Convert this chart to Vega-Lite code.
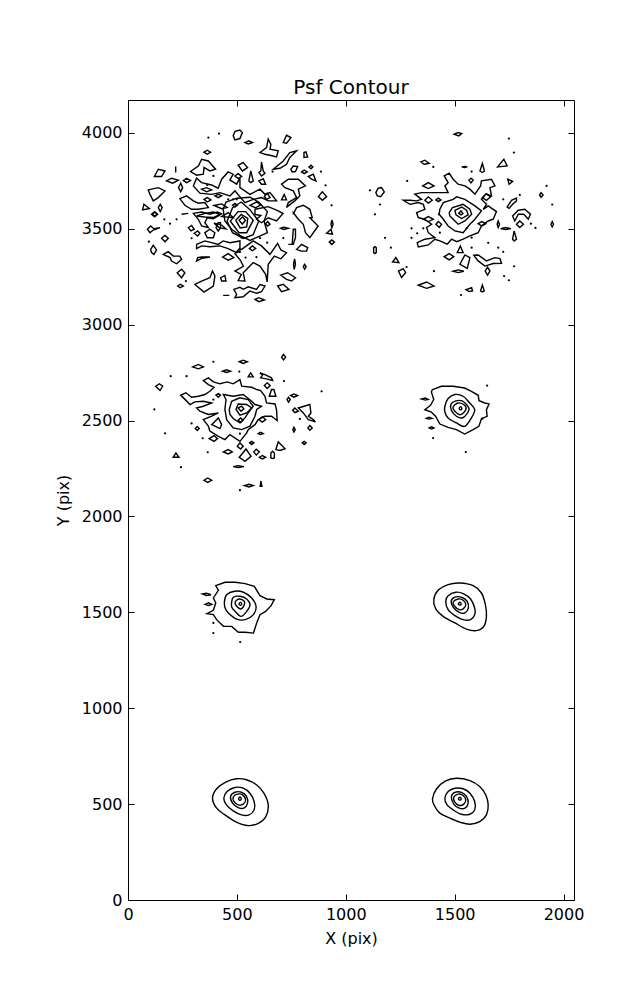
{"$schema":"https://vega.github.io/schema/vega-lite/v6.json","width":446,"height":800,"autosize":"none","padding":{"left":128,"top":100,"right":63,"bottom":100},"background":"white","config":{"view":{"stroke":"black","strokeWidth":1,"fill":null},"font":"DejaVu Sans"},"title":{"text":"Psf Contour","font":"DejaVu Sans","fontSize":20,"fontWeight":"normal","color":"black","offset":2,"anchor":"middle"},
"datasets":{"contours":[
{"c":1,"x":1398,"y":526},{"c":1,"x":1417,"y":580},{"c":1,"x":1459,"y":621},{"c":1,"x":1508,"y":635},{"c":1,"x":1570,"y":623},{"c":1,"x":1615,"y":592},{"c":1,"x":1643,"y":548},{"c":1,"x":1654,"y":496},{"c":1,"x":1646,"y":444},{"c":1,"x":1615,"y":409},{"c":1,"x":1570,"y":395},{"c":1,"x":1524,"y":406},{"c":1,"x":1478,"y":427},{"c":1,"x":1432,"y":453},{"c":1,"x":1409,"y":488},
{"c":2,"x":1455,"y":531},{"c":2,"x":1470,"y":566},{"c":2,"x":1501,"y":583},{"c":2,"x":1539,"y":580},{"c":2,"x":1570,"y":557},{"c":2,"x":1592,"y":514},{"c":2,"x":1592,"y":470},{"c":2,"x":1570,"y":447},{"c":2,"x":1531,"y":447},{"c":2,"x":1493,"y":470},{"c":2,"x":1465,"y":496},
{"c":3,"x":1485,"y":540},{"c":3,"x":1501,"y":561},{"c":3,"x":1531,"y":561},{"c":3,"x":1554,"y":540},{"c":3,"x":1562,"y":505},{"c":3,"x":1547,"y":479},{"c":3,"x":1521,"y":479},{"c":3,"x":1496,"y":500},
{"c":4,"x":1496,"y":536},{"c":4,"x":1516,"y":552},{"c":4,"x":1539,"y":545},{"c":4,"x":1551,"y":522},{"c":4,"x":1542,"y":500},{"c":4,"x":1521,"y":493},{"c":4,"x":1501,"y":510},
{"c":5,"x":1517,"y":527},{"c":5,"x":1524,"y":536},{"c":5,"x":1530,"y":527},{"c":5,"x":1524,"y":521},
{"c":6,"x":388,"y":531},{"c":6,"x":407,"y":580},{"c":6,"x":449,"y":615},{"c":6,"x":498,"y":632},{"c":6,"x":544,"y":627},{"c":6,"x":590,"y":601},{"c":6,"x":624,"y":557},{"c":6,"x":644,"y":496},{"c":6,"x":633,"y":435},{"c":6,"x":598,"y":400},{"c":6,"x":552,"y":388},{"c":6,"x":498,"y":406},{"c":6,"x":445,"y":444},{"c":6,"x":407,"y":479},
{"c":7,"x":440,"y":531},{"c":7,"x":455,"y":566},{"c":7,"x":491,"y":587},{"c":7,"x":529,"y":583},{"c":7,"x":560,"y":557},{"c":7,"x":579,"y":514},{"c":7,"x":579,"y":470},{"c":7,"x":556,"y":444},{"c":7,"x":521,"y":444},{"c":7,"x":483,"y":465},{"c":7,"x":452,"y":496},
{"c":8,"x":471,"y":540},{"c":8,"x":491,"y":562},{"c":8,"x":521,"y":562},{"c":8,"x":544,"y":540},{"c":8,"x":549,"y":505},{"c":8,"x":532,"y":479},{"c":8,"x":506,"y":482},{"c":8,"x":480,"y":505},
{"c":9,"x":483,"y":536},{"c":9,"x":501,"y":552},{"c":9,"x":526,"y":548},{"c":9,"x":540,"y":522},{"c":9,"x":529,"y":500},{"c":9,"x":506,"y":496},{"c":9,"x":486,"y":514},
{"c":10,"x":508,"y":527},{"c":10,"x":514,"y":538},{"c":10,"x":520,"y":527},{"c":10,"x":514,"y":520},
{"c":11,"x":1404,"y":1566},{"c":11,"x":1424,"y":1615},{"c":11,"x":1470,"y":1645},{"c":11,"x":1524,"y":1653},{"c":11,"x":1585,"y":1639},{"c":11,"x":1623,"y":1601},{"c":11,"x":1641,"y":1540},{"c":11,"x":1646,"y":1479},{"c":11,"x":1634,"y":1427},{"c":11,"x":1600,"y":1405},{"c":11,"x":1554,"y":1413},{"c":11,"x":1501,"y":1445},{"c":11,"x":1447,"y":1479},{"c":11,"x":1413,"y":1518},
{"c":12,"x":1459,"y":1558},{"c":12,"x":1470,"y":1587},{"c":12,"x":1505,"y":1605},{"c":12,"x":1539,"y":1598},{"c":12,"x":1573,"y":1570},{"c":12,"x":1592,"y":1523},{"c":12,"x":1592,"y":1488},{"c":12,"x":1573,"y":1462},{"c":12,"x":1539,"y":1462},{"c":12,"x":1501,"y":1483},{"c":12,"x":1470,"y":1514},
{"c":13,"x":1484,"y":1558},{"c":13,"x":1501,"y":1579},{"c":13,"x":1531,"y":1579},{"c":13,"x":1557,"y":1558},{"c":13,"x":1563,"y":1523},{"c":13,"x":1547,"y":1497},{"c":13,"x":1521,"y":1500},{"c":13,"x":1493,"y":1528},
{"c":14,"x":1493,"y":1554},{"c":14,"x":1516,"y":1570},{"c":14,"x":1539,"y":1563},{"c":14,"x":1551,"y":1540},{"c":14,"x":1539,"y":1518},{"c":14,"x":1521,"y":1514},{"c":14,"x":1498,"y":1535},
{"c":15,"x":1517,"y":1544},{"c":15,"x":1524,"y":1553},{"c":15,"x":1530,"y":1544},{"c":15,"x":1524,"y":1538},
{"c":16,"x":403,"y":1639},{"c":16,"x":446,"y":1657},{"c":16,"x":492,"y":1657},{"c":16,"x":538,"y":1650},{"c":16,"x":580,"y":1636},{"c":16,"x":606,"y":1587},{"c":16,"x":637,"y":1570},{"c":16,"x":672,"y":1566},{"c":16,"x":657,"y":1535},{"c":16,"x":632,"y":1505},{"c":16,"x":606,"y":1488},{"c":16,"x":591,"y":1445},{"c":16,"x":576,"y":1392},{"c":16,"x":538,"y":1396},{"c":16,"x":507,"y":1396},{"c":16,"x":476,"y":1427},{"c":16,"x":438,"y":1427},{"c":16,"x":407,"y":1462},{"c":16,"x":392,"y":1488},{"c":16,"x":362,"y":1493},{"c":16,"x":392,"y":1511},{"c":16,"x":403,"y":1549},{"c":16,"x":392,"y":1575},{"c":16,"x":415,"y":1615},
{"c":17,"x":443,"y":1558},{"c":17,"x":453,"y":1592},{"c":17,"x":489,"y":1610},{"c":17,"x":530,"y":1605},{"c":17,"x":568,"y":1575},{"c":17,"x":588,"y":1532},{"c":17,"x":576,"y":1488},{"c":17,"x":538,"y":1462},{"c":17,"x":499,"y":1465},{"c":17,"x":461,"y":1497},{"c":17,"x":446,"y":1523},
{"c":18,"x":476,"y":1554},{"c":18,"x":484,"y":1579},{"c":18,"x":515,"y":1584},{"c":18,"x":545,"y":1570},{"c":18,"x":560,"y":1540},{"c":18,"x":545,"y":1505},{"c":18,"x":519,"y":1479},{"c":18,"x":492,"y":1505},{"c":18,"x":476,"y":1528},
{"c":19,"x":492,"y":1554},{"c":19,"x":511,"y":1570},{"c":19,"x":534,"y":1558},{"c":19,"x":534,"y":1540},{"c":19,"x":519,"y":1518},{"c":19,"x":499,"y":1532},
{"c":20,"x":510,"y":1544},{"c":20,"x":516,"y":1552},{"c":20,"x":522,"y":1544},{"c":20,"x":516,"y":1537},
{"c":21,"x":342,"y":1596},{"c":21,"x":360,"y":1600},{"c":21,"x":381,"y":1592},{"c":21,"x":360,"y":1588},
{"c":22,"x":354,"y":1542},{"c":22,"x":370,"y":1550},{"c":22,"x":385,"y":1542},{"c":22,"x":370,"y":1536},
{"c":23,"x":1398,"y":2662},{"c":23,"x":1439,"y":2679},{"c":23,"x":1493,"y":2679},{"c":23,"x":1546,"y":2670},{"c":23,"x":1577,"y":2653},{"c":23,"x":1608,"y":2632},{"c":23,"x":1612,"y":2604},{"c":23,"x":1638,"y":2592},{"c":23,"x":1658,"y":2587},{"c":23,"x":1646,"y":2557},{"c":23,"x":1649,"y":2522},{"c":23,"x":1623,"y":2510},{"c":23,"x":1611,"y":2470},{"c":23,"x":1585,"y":2453},{"c":23,"x":1546,"y":2430},{"c":23,"x":1508,"y":2453},{"c":23,"x":1470,"y":2465},{"c":23,"x":1432,"y":2482},{"c":23,"x":1413,"y":2522},{"c":23,"x":1393,"y":2545},{"c":23,"x":1363,"y":2557},{"c":23,"x":1389,"y":2580},{"c":23,"x":1404,"y":2610},{"c":23,"x":1393,"y":2650},
{"c":24,"x":1455,"y":2575},{"c":24,"x":1470,"y":2615},{"c":24,"x":1501,"y":2636},{"c":24,"x":1539,"y":2627},{"c":24,"x":1569,"y":2592},{"c":24,"x":1592,"y":2557},{"c":24,"x":1577,"y":2514},{"c":24,"x":1546,"y":2470},{"c":24,"x":1508,"y":2488},{"c":24,"x":1470,"y":2514},{"c":24,"x":1455,"y":2545},
{"c":25,"x":1481,"y":2571},{"c":25,"x":1493,"y":2597},{"c":25,"x":1531,"y":2604},{"c":25,"x":1557,"y":2580},{"c":25,"x":1566,"y":2557},{"c":25,"x":1546,"y":2522},{"c":25,"x":1524,"y":2514},{"c":25,"x":1496,"y":2535},
{"c":26,"x":1493,"y":2571},{"c":26,"x":1516,"y":2592},{"c":26,"x":1546,"y":2580},{"c":26,"x":1551,"y":2557},{"c":26,"x":1527,"y":2531},{"c":26,"x":1501,"y":2549},
{"c":27,"x":1521,"y":2563},{"c":27,"x":1527,"y":2572},{"c":27,"x":1533,"y":2563},{"c":27,"x":1527,"y":2556},
{"c":28,"x":1348,"y":2613},{"c":28,"x":1365,"y":2618},{"c":28,"x":1378,"y":2610},{"c":28,"x":1365,"y":2607},
{"c":29,"x":1370,"y":2512},{"c":29,"x":1382,"y":2518},{"c":29,"x":1396,"y":2512},{"c":29,"x":1382,"y":2508},
{"c":30,"x":1383,"y":2462},{"c":30,"x":1394,"y":2468},{"c":30,"x":1405,"y":2462},{"c":30,"x":1394,"y":2456},
{"c":31,"x":242,"y":2633},{"c":31,"x":266,"y":2645},{"c":31,"x":292,"y":2622},{"c":31,"x":323,"y":2627},{"c":31,"x":353,"y":2636},{"c":31,"x":376,"y":2653},{"c":31,"x":395,"y":2674},{"c":31,"x":369,"y":2688},{"c":31,"x":346,"y":2709},{"c":31,"x":369,"y":2723},{"c":31,"x":392,"y":2702},{"c":31,"x":422,"y":2692},{"c":31,"x":456,"y":2702},{"c":31,"x":483,"y":2692},{"c":31,"x":514,"y":2714},{"c":31,"x":522,"y":2680},{"c":31,"x":568,"y":2674},{"c":31,"x":591,"y":2662},{"c":31,"x":609,"y":2657},{"c":31,"x":629,"y":2627},{"c":31,"x":636,"y":2592},{"c":31,"x":675,"y":2587},{"c":31,"x":682,"y":2558},{"c":31,"x":685,"y":2500},{"c":31,"x":659,"y":2523},{"c":31,"x":629,"y":2523},{"c":31,"x":598,"y":2505},{"c":31,"x":583,"y":2479},{"c":31,"x":552,"y":2453},{"c":31,"x":545,"y":2436},{"c":31,"x":514,"y":2392},{"c":31,"x":468,"y":2427},{"c":31,"x":445,"y":2401},{"c":31,"x":415,"y":2418},{"c":31,"x":376,"y":2445},{"c":31,"x":369,"y":2471},{"c":31,"x":346,"y":2505},{"c":31,"x":384,"y":2523},{"c":31,"x":415,"y":2540},{"c":31,"x":369,"y":2532},{"c":31,"x":330,"y":2549},{"c":31,"x":315,"y":2566},{"c":31,"x":346,"y":2575},{"c":31,"x":384,"y":2592},{"c":31,"x":346,"y":2601},{"c":31,"x":307,"y":2598},{"c":31,"x":285,"y":2584},
{"c":32,"x":438,"y":2636},{"c":32,"x":483,"y":2627},{"c":32,"x":529,"y":2636},{"c":32,"x":568,"y":2601},{"c":32,"x":583,"y":2584},{"c":32,"x":613,"y":2575},{"c":32,"x":591,"y":2558},{"c":32,"x":583,"y":2523},{"c":32,"x":560,"y":2471},{"c":32,"x":522,"y":2453},{"c":32,"x":483,"y":2462},{"c":32,"x":453,"y":2505},{"c":32,"x":445,"y":2558},{"c":32,"x":450,"y":2610},
{"c":33,"x":465,"y":2558},{"c":33,"x":476,"y":2601},{"c":33,"x":514,"y":2619},{"c":33,"x":552,"y":2610},{"c":33,"x":575,"y":2575},{"c":33,"x":552,"y":2540},{"c":33,"x":537,"y":2514},{"c":33,"x":514,"y":2488},{"c":33,"x":483,"y":2511},{"c":33,"x":468,"y":2532},
{"c":34,"x":496,"y":2558},{"c":34,"x":506,"y":2587},{"c":34,"x":545,"y":2584},{"c":34,"x":568,"y":2566},{"c":34,"x":545,"y":2540},{"c":34,"x":514,"y":2528},
{"c":35,"x":506,"y":2566},{"c":35,"x":522,"y":2575},{"c":35,"x":532,"y":2561},{"c":35,"x":519,"y":2549},
{"c":36,"x":127,"y":2679},{"c":36,"x":144,"y":2692},{"c":36,"x":159,"y":2679},{"c":36,"x":147,"y":2657},
{"c":37,"x":297,"y":2780},{"c":37,"x":323,"y":2793},{"c":37,"x":346,"y":2780},{"c":37,"x":323,"y":2770},
{"c":38,"x":511,"y":2807},{"c":38,"x":529,"y":2815},{"c":38,"x":548,"y":2807},{"c":38,"x":529,"y":2798},
{"c":39,"x":434,"y":2758},{"c":39,"x":453,"y":2765},{"c":39,"x":471,"y":2758},{"c":39,"x":453,"y":2751},
{"c":40,"x":705,"y":2831},{"c":40,"x":714,"y":2845},{"c":40,"x":724,"y":2831},{"c":40,"x":714,"y":2817},
{"c":41,"x":552,"y":2728},{"c":41,"x":563,"y":2749},{"c":41,"x":575,"y":2728},
{"c":42,"x":606,"y":2749},{"c":42,"x":629,"y":2740},{"c":42,"x":659,"y":2723},{"c":42,"x":664,"y":2709},{"c":42,"x":636,"y":2718},{"c":42,"x":609,"y":2723},{"c":42,"x":618,"y":2737},
{"c":43,"x":626,"y":2683},{"c":43,"x":639,"y":2697},{"c":43,"x":653,"y":2683},{"c":43,"x":639,"y":2667},
{"c":44,"x":649,"y":2627},{"c":44,"x":659,"y":2662},{"c":44,"x":670,"y":2662},{"c":44,"x":679,"y":2627},
{"c":45,"x":747,"y":2631},{"c":45,"x":762,"y":2639},{"c":45,"x":779,"y":2631},{"c":45,"x":762,"y":2622},
{"c":46,"x":730,"y":2610},{"c":46,"x":737,"y":2622},{"c":46,"x":745,"y":2610},{"c":46,"x":737,"y":2596},
{"c":47,"x":404,"y":2633},{"c":47,"x":415,"y":2641},{"c":47,"x":425,"y":2633},{"c":47,"x":415,"y":2622},
{"c":48,"x":782,"y":2566},{"c":48,"x":835,"y":2584},{"c":48,"x":840,"y":2540},{"c":48,"x":828,"y":2523},{"c":48,"x":851,"y":2505},{"c":48,"x":861,"y":2493},{"c":48,"x":828,"y":2505},{"c":48,"x":805,"y":2540},
{"c":49,"x":756,"y":2554},{"c":49,"x":766,"y":2566},{"c":49,"x":782,"y":2549},{"c":49,"x":766,"y":2542},
{"c":50,"x":826,"y":2462},{"c":50,"x":835,"y":2474},{"c":50,"x":846,"y":2462},{"c":50,"x":835,"y":2450},
{"c":51,"x":757,"y":2453},{"c":51,"x":762,"y":2465},{"c":51,"x":768,"y":2453},{"c":51,"x":762,"y":2441},
{"c":52,"x":309,"y":2459},{"c":52,"x":318,"y":2469},{"c":52,"x":327,"y":2459},{"c":52,"x":318,"y":2448},
{"c":53,"x":373,"y":2406},{"c":53,"x":395,"y":2422},{"c":53,"x":411,"y":2406},{"c":53,"x":395,"y":2392},
{"c":54,"x":384,"y":2479},{"c":54,"x":415,"y":2514},{"c":54,"x":430,"y":2479},{"c":54,"x":422,"y":2458},{"c":54,"x":399,"y":2471},
{"c":55,"x":598,"y":2432},{"c":55,"x":609,"y":2439},{"c":55,"x":621,"y":2432},{"c":55,"x":609,"y":2427},
{"c":56,"x":502,"y":2366},{"c":56,"x":514,"y":2384},{"c":56,"x":529,"y":2366},{"c":56,"x":517,"y":2352},
{"c":57,"x":558,"y":2384},{"c":57,"x":568,"y":2392},{"c":57,"x":578,"y":2384},{"c":57,"x":568,"y":2375},
{"c":58,"x":601,"y":2505},{"c":58,"x":617,"y":2521},{"c":58,"x":632,"y":2505},{"c":58,"x":617,"y":2492},
{"c":59,"x":506,"y":2502},{"c":59,"x":517,"y":2514},{"c":59,"x":528,"y":2502},{"c":59,"x":517,"y":2490},
{"c":60,"x":800,"y":2384},{"c":60,"x":809,"y":2392},{"c":60,"x":818,"y":2384},{"c":60,"x":809,"y":2375},
{"c":61,"x":679,"y":2349},{"c":61,"x":690,"y":2389},{"c":61,"x":721,"y":2354},{"c":61,"x":698,"y":2344},
{"c":62,"x":656,"y":2305},{"c":62,"x":656,"y":2331},{"c":62,"x":664,"y":2340},{"c":62,"x":672,"y":2331},{"c":62,"x":672,"y":2305},{"c":62,"x":664,"y":2302},
{"c":63,"x":603,"y":2309},{"c":63,"x":617,"y":2318},{"c":63,"x":632,"y":2309},{"c":63,"x":617,"y":2300},
{"c":64,"x":577,"y":2337},{"c":64,"x":589,"y":2351},{"c":64,"x":603,"y":2337},{"c":64,"x":589,"y":2321},
{"c":65,"x":511,"y":2309},{"c":65,"x":542,"y":2352},{"c":65,"x":565,"y":2314},{"c":65,"x":537,"y":2288},
{"c":66,"x":438,"y":2337},{"c":66,"x":460,"y":2349},{"c":66,"x":479,"y":2337},{"c":66,"x":460,"y":2326},
{"c":67,"x":208,"y":2309},{"c":67,"x":220,"y":2331},{"c":67,"x":234,"y":2309},
{"c":68,"x":483,"y":2260},{"c":68,"x":506,"y":2265},{"c":68,"x":532,"y":2260},{"c":68,"x":506,"y":2255},
{"c":69,"x":349,"y":2189},{"c":69,"x":366,"y":2201},{"c":69,"x":384,"y":2189},{"c":69,"x":366,"y":2178},
{"c":70,"x":534,"y":2161},{"c":70,"x":555,"y":2168},{"c":70,"x":575,"y":2161},{"c":70,"x":555,"y":2154},
{"c":71,"x":607,"y":2157},{"c":71,"x":610,"y":2184},{"c":71,"x":615,"y":2157},
{"c":72,"x":1452,"y":3776},{"c":72,"x":1475,"y":3790},{"c":72,"x":1493,"y":3759},{"c":72,"x":1516,"y":3733},{"c":72,"x":1547,"y":3724},{"c":72,"x":1570,"y":3707},{"c":72,"x":1593,"y":3681},{"c":72,"x":1619,"y":3724},{"c":72,"x":1623,"y":3750},{"c":72,"x":1669,"y":3759},{"c":72,"x":1685,"y":3724},{"c":72,"x":1662,"y":3715},{"c":72,"x":1669,"y":3672},{"c":72,"x":1643,"y":3681},{"c":72,"x":1623,"y":3654},{"c":72,"x":1646,"y":3628},{"c":72,"x":1631,"y":3602},{"c":72,"x":1654,"y":3620},{"c":72,"x":1692,"y":3590},{"c":72,"x":1677,"y":3550},{"c":72,"x":1654,"y":3541},{"c":72,"x":1623,"y":3515},{"c":72,"x":1608,"y":3480},{"c":72,"x":1570,"y":3463},{"c":72,"x":1539,"y":3446},{"c":72,"x":1509,"y":3433},{"c":72,"x":1486,"y":3446},{"c":72,"x":1466,"y":3420},{"c":72,"x":1432,"y":3437},{"c":72,"x":1409,"y":3446},{"c":72,"x":1379,"y":3416},{"c":72,"x":1333,"y":3406},{"c":72,"x":1328,"y":3428},{"c":72,"x":1363,"y":3446},{"c":72,"x":1409,"y":3454},{"c":72,"x":1379,"y":3480},{"c":72,"x":1371,"y":3507},{"c":72,"x":1394,"y":3524},{"c":72,"x":1363,"y":3550},{"c":72,"x":1333,"y":3559},{"c":72,"x":1325,"y":3585},{"c":72,"x":1363,"y":3602},{"c":72,"x":1356,"y":3628},{"c":72,"x":1333,"y":3637},{"c":72,"x":1295,"y":3628},{"c":72,"x":1264,"y":3649},{"c":72,"x":1295,"y":3649},{"c":72,"x":1325,"y":3646},{"c":72,"x":1348,"y":3654},{"c":72,"x":1317,"y":3681},{"c":72,"x":1348,"y":3689},{"c":72,"x":1386,"y":3689},{"c":72,"x":1432,"y":3689},{"c":72,"x":1470,"y":3689},{"c":72,"x":1455,"y":3724},{"c":72,"x":1470,"y":3741},
{"c":73,"x":1432,"y":3602},{"c":73,"x":1448,"y":3637},{"c":73,"x":1493,"y":3654},{"c":73,"x":1509,"y":3667},{"c":73,"x":1547,"y":3654},{"c":73,"x":1593,"y":3620},{"c":73,"x":1623,"y":3594},{"c":73,"x":1593,"y":3550},{"c":73,"x":1570,"y":3524},{"c":73,"x":1539,"y":3480},{"c":73,"x":1501,"y":3489},{"c":73,"x":1470,"y":3515},{"c":73,"x":1448,"y":3550},{"c":73,"x":1429,"y":3576},
{"c":74,"x":1475,"y":3585},{"c":74,"x":1490,"y":3611},{"c":74,"x":1539,"y":3628},{"c":74,"x":1570,"y":3602},{"c":74,"x":1578,"y":3576},{"c":74,"x":1547,"y":3541},{"c":74,"x":1516,"y":3524},{"c":74,"x":1493,"y":3550},{"c":74,"x":1478,"y":3567},
{"c":75,"x":1501,"y":3597},{"c":75,"x":1532,"y":3614},{"c":75,"x":1555,"y":3597},{"c":75,"x":1562,"y":3573},{"c":75,"x":1532,"y":3554},{"c":75,"x":1506,"y":3573},
{"c":76,"x":1519,"y":3581},{"c":76,"x":1529,"y":3594},{"c":76,"x":1538,"y":3580},{"c":76,"x":1529,"y":3573},
{"c":77,"x":1498,"y":3994},{"c":77,"x":1516,"y":4002},{"c":77,"x":1532,"y":3997},{"c":77,"x":1519,"y":3985},
{"c":78,"x":1345,"y":3849},{"c":78,"x":1363,"y":3858},{"c":78,"x":1383,"y":3842},{"c":78,"x":1360,"y":3837},
{"c":79,"x":1616,"y":3802},{"c":79,"x":1627,"y":3841},{"c":79,"x":1637,"y":3802},{"c":79,"x":1627,"y":3794},
{"c":80,"x":1697,"y":3823},{"c":80,"x":1726,"y":3863},{"c":80,"x":1741,"y":3828},
{"c":81,"x":1532,"y":3823},{"c":81,"x":1546,"y":3825},{"c":81,"x":1558,"y":3823},{"c":81,"x":1546,"y":3820},
{"c":82,"x":1565,"y":3754},{"c":82,"x":1575,"y":3764},{"c":82,"x":1585,"y":3754},{"c":82,"x":1575,"y":3740},
{"c":83,"x":1744,"y":3759},{"c":83,"x":1766,"y":3747},{"c":83,"x":1750,"y":3733},
{"c":84,"x":1353,"y":3724},{"c":84,"x":1379,"y":3741},{"c":84,"x":1405,"y":3724},{"c":84,"x":1379,"y":3710},
{"c":85,"x":1138,"y":3689},{"c":85,"x":1149,"y":3712},{"c":85,"x":1164,"y":3715},{"c":85,"x":1177,"y":3693},{"c":85,"x":1160,"y":3668},{"c":85,"x":1145,"y":3672},
{"c":86,"x":1890,"y":3677},{"c":86,"x":1897,"y":3689},{"c":86,"x":1906,"y":3677},{"c":86,"x":1897,"y":3665},
{"c":87,"x":1363,"y":3649},{"c":87,"x":1379,"y":3667},{"c":87,"x":1397,"y":3649},{"c":87,"x":1379,"y":3634},
{"c":88,"x":1414,"y":3651},{"c":88,"x":1425,"y":3660},{"c":88,"x":1437,"y":3651},{"c":88,"x":1425,"y":3642},
{"c":89,"x":1628,"y":3663},{"c":89,"x":1646,"y":3684},{"c":89,"x":1665,"y":3667},{"c":89,"x":1646,"y":3649},
{"c":90,"x":1741,"y":3614},{"c":90,"x":1761,"y":3649},{"c":90,"x":1784,"y":3660},{"c":90,"x":1784,"y":3646},{"c":90,"x":1766,"y":3628},{"c":90,"x":1750,"y":3607},
{"c":91,"x":1766,"y":3567},{"c":91,"x":1792,"y":3597},{"c":91,"x":1822,"y":3602},{"c":91,"x":1848,"y":3576},{"c":91,"x":1838,"y":3550},{"c":91,"x":1818,"y":3576},{"c":91,"x":1792,"y":3576},{"c":91,"x":1776,"y":3541},
{"c":92,"x":1784,"y":3524},{"c":92,"x":1799,"y":3541},{"c":92,"x":1816,"y":3524},{"c":92,"x":1799,"y":3507},
{"c":93,"x":1695,"y":3524},{"c":93,"x":1700,"y":3541},{"c":93,"x":1706,"y":3524},{"c":93,"x":1700,"y":3507},
{"c":94,"x":1711,"y":3501},{"c":94,"x":1734,"y":3507},{"c":94,"x":1758,"y":3501},{"c":94,"x":1734,"y":3496},
{"c":95,"x":1766,"y":3446},{"c":95,"x":1773,"y":3489},{"c":95,"x":1784,"y":3446},{"c":95,"x":1773,"y":3437},
{"c":96,"x":1942,"y":3524},{"c":96,"x":1948,"y":3538},{"c":96,"x":1954,"y":3524},{"c":96,"x":1948,"y":3510},
{"c":97,"x":1356,"y":3550},{"c":97,"x":1379,"y":3564},{"c":97,"x":1402,"y":3550},{"c":97,"x":1379,"y":3538},
{"c":98,"x":1414,"y":3524},{"c":98,"x":1425,"y":3538},{"c":98,"x":1440,"y":3524},{"c":98,"x":1429,"y":3507},
{"c":99,"x":1608,"y":3527},{"c":99,"x":1625,"y":3538},{"c":99,"x":1643,"y":3527},{"c":99,"x":1625,"y":3515},
{"c":100,"x":1128,"y":3376},{"c":100,"x":1128,"y":3402},{"c":100,"x":1134,"y":3407},{"c":100,"x":1140,"y":3402},{"c":100,"x":1140,"y":3376},{"c":100,"x":1134,"y":3371},
{"c":101,"x":1215,"y":3327},{"c":101,"x":1230,"y":3350},{"c":101,"x":1244,"y":3324},
{"c":102,"x":1242,"y":3280},{"c":102,"x":1264,"y":3293},{"c":102,"x":1275,"y":3272},{"c":102,"x":1256,"y":3246},
{"c":103,"x":1452,"y":3355},{"c":103,"x":1475,"y":3371},{"c":103,"x":1496,"y":3355},{"c":103,"x":1475,"y":3338},
{"c":104,"x":1512,"y":3376},{"c":104,"x":1526,"y":3411},{"c":104,"x":1539,"y":3376},
{"c":105,"x":1524,"y":3315},{"c":105,"x":1547,"y":3364},{"c":105,"x":1570,"y":3350},{"c":105,"x":1558,"y":3294},
{"c":106,"x":1588,"y":3362},{"c":106,"x":1608,"y":3364},{"c":106,"x":1646,"y":3333},{"c":106,"x":1685,"y":3350},{"c":106,"x":1708,"y":3345},{"c":106,"x":1715,"y":3320},{"c":106,"x":1677,"y":3319},{"c":106,"x":1639,"y":3306},{"c":106,"x":1608,"y":3333},
{"c":107,"x":1640,"y":3280},{"c":107,"x":1651,"y":3301},{"c":107,"x":1662,"y":3280},{"c":107,"x":1651,"y":3259},
{"c":108,"x":1493,"y":3279},{"c":108,"x":1516,"y":3286},{"c":108,"x":1542,"y":3279},{"c":108,"x":1516,"y":3272},
{"c":109,"x":1333,"y":3206},{"c":109,"x":1371,"y":3223},{"c":109,"x":1405,"y":3202},{"c":109,"x":1371,"y":3190},
{"c":110,"x":1552,"y":3183},{"c":110,"x":1578,"y":3193},{"c":110,"x":1582,"y":3176},{"c":110,"x":1567,"y":3173},
{"c":111,"x":1619,"y":3176},{"c":111,"x":1627,"y":3207},{"c":111,"x":1636,"y":3176},{"c":111,"x":1627,"y":3171},
{"c":112,"x":483,"y":3985},{"c":112,"x":491,"y":4008},{"c":112,"x":514,"y":4015},{"c":112,"x":525,"y":4002},{"c":112,"x":514,"y":3971},{"c":112,"x":491,"y":3964},
{"c":113,"x":349,"y":3900},{"c":113,"x":364,"y":3910},{"c":113,"x":379,"y":3900},{"c":113,"x":364,"y":3889},
{"c":114,"x":219,"y":3825},{"c":114,"x":219,"y":3794},
{"c":115,"x":121,"y":3773},{"c":115,"x":139,"y":3811},{"c":115,"x":170,"y":3802},{"c":115,"x":154,"y":3773},
{"c":116,"x":177,"y":3750},{"c":116,"x":200,"y":3764},{"c":116,"x":231,"y":3754},{"c":116,"x":205,"y":3738},
{"c":117,"x":254,"y":3752},{"c":117,"x":269,"y":3764},{"c":117,"x":287,"y":3752},{"c":117,"x":269,"y":3741},
{"c":118,"x":232,"y":3715},{"c":118,"x":242,"y":3738},{"c":118,"x":251,"y":3715},{"c":118,"x":242,"y":3694},
{"c":119,"x":287,"y":3799},{"c":119,"x":323,"y":3828},{"c":119,"x":338,"y":3863},{"c":119,"x":369,"y":3854},{"c":119,"x":402,"y":3811},{"c":119,"x":376,"y":3802},{"c":119,"x":349,"y":3820},{"c":119,"x":346,"y":3785},{"c":119,"x":315,"y":3780},
{"c":120,"x":93,"y":3703},{"c":120,"x":139,"y":3715},{"c":120,"x":170,"y":3698},{"c":120,"x":139,"y":3663},{"c":120,"x":116,"y":3646},{"c":120,"x":101,"y":3680},
{"c":121,"x":67,"y":3599},{"c":121,"x":73,"y":3628},{"c":121,"x":98,"y":3606},
{"c":122,"x":139,"y":3611},{"c":122,"x":148,"y":3628},{"c":122,"x":157,"y":3611},{"c":122,"x":148,"y":3590},
{"c":123,"x":112,"y":3576},{"c":123,"x":124,"y":3588},{"c":123,"x":136,"y":3576},{"c":123,"x":124,"y":3564},
{"c":124,"x":610,"y":3802},{"c":124,"x":613,"y":3849},{"c":124,"x":621,"y":3802},{"c":124,"x":629,"y":3790},{"c":124,"x":613,"y":3776},{"c":124,"x":601,"y":3794},
{"c":125,"x":555,"y":3750},{"c":125,"x":564,"y":3802},{"c":125,"x":575,"y":3750},{"c":125,"x":564,"y":3741},
{"c":126,"x":506,"y":3832},{"c":126,"x":529,"y":3846},{"c":126,"x":549,"y":3820},{"c":126,"x":525,"y":3802},
{"c":127,"x":491,"y":3776},{"c":127,"x":506,"y":3788},{"c":127,"x":522,"y":3773},{"c":127,"x":506,"y":3762},
{"c":128,"x":606,"y":3898},{"c":128,"x":636,"y":3924},{"c":128,"x":644,"y":3968},{"c":128,"x":656,"y":3941},{"c":128,"x":652,"y":3915},{"c":128,"x":690,"y":3907},{"c":128,"x":682,"y":3875},{"c":128,"x":652,"y":3884},{"c":128,"x":629,"y":3889},
{"c":129,"x":713,"y":3950},{"c":129,"x":728,"y":3988},{"c":129,"x":748,"y":3976},{"c":129,"x":728,"y":3947},
{"c":130,"x":537,"y":3950},{"c":130,"x":555,"y":3959},{"c":130,"x":571,"y":3950},{"c":130,"x":552,"y":3943},
{"c":131,"x":667,"y":3811},{"c":131,"x":713,"y":3854},{"c":131,"x":743,"y":3898},{"c":131,"x":774,"y":3907},{"c":131,"x":743,"y":3872},{"c":131,"x":728,"y":3837},{"c":131,"x":698,"y":3816},
{"c":132,"x":808,"y":3898},{"c":132,"x":817,"y":3901},{"c":132,"x":825,"y":3875},{"c":132,"x":808,"y":3872},
{"c":133,"x":748,"y":3811},{"c":133,"x":759,"y":3828},{"c":133,"x":779,"y":3825},{"c":133,"x":769,"y":3799},{"c":133,"x":754,"y":3797},
{"c":134,"x":797,"y":3797},{"c":134,"x":809,"y":3806},{"c":134,"x":823,"y":3797},{"c":134,"x":809,"y":3788},
{"c":135,"x":831,"y":3823},{"c":135,"x":840,"y":3832},{"c":135,"x":849,"y":3823},{"c":135,"x":840,"y":3813},
{"c":136,"x":828,"y":3773},{"c":136,"x":851,"y":3785},{"c":136,"x":863,"y":3750},{"c":136,"x":843,"y":3759},
{"c":137,"x":874,"y":3668},{"c":137,"x":892,"y":3693},{"c":137,"x":912,"y":3668},{"c":137,"x":893,"y":3649},
{"c":138,"x":705,"y":3733},{"c":138,"x":736,"y":3759},{"c":138,"x":782,"y":3759},{"c":138,"x":815,"y":3724},{"c":138,"x":782,"y":3707},{"c":138,"x":789,"y":3672},{"c":138,"x":766,"y":3646},{"c":138,"x":736,"y":3620},{"c":138,"x":728,"y":3611},{"c":138,"x":736,"y":3637},{"c":138,"x":774,"y":3663},{"c":138,"x":759,"y":3698},{"c":138,"x":721,"y":3715},
{"c":139,"x":705,"y":3651},{"c":139,"x":717,"y":3680},{"c":139,"x":728,"y":3651},
{"c":140,"x":759,"y":3576},{"c":140,"x":774,"y":3611},{"c":140,"x":805,"y":3623},{"c":140,"x":835,"y":3602},{"c":140,"x":846,"y":3559},{"c":140,"x":835,"y":3558},{"c":140,"x":873,"y":3515},{"c":140,"x":835,"y":3454},{"c":140,"x":815,"y":3480},{"c":140,"x":805,"y":3524},{"c":140,"x":782,"y":3550},{"c":140,"x":759,"y":3585},
{"c":141,"x":932,"y":3524},{"c":141,"x":936,"y":3546},{"c":141,"x":942,"y":3524},{"c":141,"x":936,"y":3506},
{"c":142,"x":912,"y":3477},{"c":142,"x":932,"y":3498},{"c":142,"x":939,"y":3472},
{"c":143,"x":924,"y":3431},{"c":143,"x":936,"y":3442},{"c":143,"x":948,"y":3431},{"c":143,"x":936,"y":3418},
{"c":144,"x":754,"y":3419},{"c":144,"x":759,"y":3498},{"c":144,"x":769,"y":3498},{"c":144,"x":769,"y":3454},{"c":144,"x":759,"y":3419},{"c":144,"x":736,"y":3419},
{"c":145,"x":701,"y":3503},{"c":145,"x":716,"y":3508},{"c":145,"x":736,"y":3503},{"c":145,"x":716,"y":3496},
{"c":146,"x":774,"y":3393},{"c":146,"x":797,"y":3419},{"c":146,"x":825,"y":3402},{"c":146,"x":820,"y":3384},{"c":146,"x":797,"y":3384},
{"c":147,"x":763,"y":3289},{"c":147,"x":760,"y":3315},{"c":147,"x":765,"y":3344},{"c":147,"x":769,"y":3315},
{"c":148,"x":805,"y":3303},{"c":148,"x":811,"y":3315},{"c":148,"x":818,"y":3303},{"c":148,"x":811,"y":3289},
{"c":149,"x":701,"y":3259},{"c":149,"x":733,"y":3271},{"c":149,"x":769,"y":3245},{"c":149,"x":751,"y":3228},{"c":149,"x":728,"y":3237},
{"c":150,"x":687,"y":3202},{"c":150,"x":713,"y":3211},{"c":150,"x":739,"y":3184},{"c":150,"x":705,"y":3172},
{"c":151,"x":583,"y":3132},{"c":151,"x":601,"y":3141},{"c":151,"x":626,"y":3129},{"c":151,"x":601,"y":3120},
{"c":152,"x":486,"y":3184},{"c":152,"x":514,"y":3195},{"c":152,"x":530,"y":3185},{"c":152,"x":552,"y":3198},{"c":152,"x":590,"y":3184},{"c":152,"x":606,"y":3210},{"c":152,"x":629,"y":3202},{"c":152,"x":613,"y":3172},{"c":152,"x":590,"y":3164},{"c":152,"x":560,"y":3176},{"c":152,"x":529,"y":3146},{"c":152,"x":491,"y":3141},{"c":152,"x":499,"y":3158},
{"c":153,"x":557,"y":3398},{"c":153,"x":571,"y":3411},{"c":153,"x":586,"y":3398},{"c":153,"x":571,"y":3386},
{"c":154,"x":522,"y":3393},{"c":154,"x":575,"y":3437},{"c":154,"x":613,"y":3411},{"c":154,"x":652,"y":3367},{"c":154,"x":687,"y":3424},{"c":154,"x":702,"y":3390},{"c":154,"x":728,"y":3376},{"c":154,"x":702,"y":3344},{"c":154,"x":672,"y":3358},{"c":154,"x":644,"y":3315},{"c":154,"x":639,"y":3223},{"c":154,"x":632,"y":3263},{"c":154,"x":606,"y":3306},{"c":154,"x":575,"y":3324},{"c":154,"x":545,"y":3289},{"c":154,"x":529,"y":3271},{"c":154,"x":537,"y":3228},{"c":154,"x":506,"y":3230},{"c":154,"x":520,"y":3262},{"c":154,"x":491,"y":3280},{"c":154,"x":530,"y":3305},{"c":154,"x":514,"y":3340},{"c":154,"x":491,"y":3370},{"c":154,"x":510,"y":3395},
{"c":155,"x":89,"y":3498},{"c":155,"x":104,"y":3515},{"c":155,"x":119,"y":3501},{"c":155,"x":147,"y":3506},{"c":155,"x":116,"y":3494},{"c":155,"x":101,"y":3480},
{"c":156,"x":154,"y":3451},{"c":156,"x":170,"y":3466},{"c":156,"x":185,"y":3451},{"c":156,"x":170,"y":3433},
{"c":157,"x":104,"y":3393},{"c":157,"x":116,"y":3414},{"c":157,"x":131,"y":3390},{"c":157,"x":119,"y":3367},{"c":157,"x":108,"y":3376},
{"c":158,"x":162,"y":3367},{"c":158,"x":185,"y":3381},{"c":158,"x":208,"y":3358},{"c":158,"x":238,"y":3358},{"c":158,"x":246,"y":3341},{"c":158,"x":223,"y":3318},{"c":158,"x":200,"y":3332},{"c":158,"x":193,"y":3350},
{"c":159,"x":226,"y":3271},{"c":159,"x":246,"y":3289},{"c":159,"x":261,"y":3271},{"c":159,"x":246,"y":3245},
{"c":160,"x":228,"y":3202},{"c":160,"x":240,"y":3211},{"c":160,"x":254,"y":3202},{"c":160,"x":240,"y":3193},
{"c":161,"x":307,"y":3210},{"c":161,"x":338,"y":3228},{"c":161,"x":376,"y":3245},{"c":161,"x":388,"y":3280},{"c":161,"x":399,"y":3254},{"c":161,"x":392,"y":3202},{"c":161,"x":349,"y":3170},
{"c":162,"x":425,"y":3245},{"c":162,"x":445,"y":3257},{"c":162,"x":450,"y":3228},{"c":162,"x":430,"y":3228},
{"c":163,"x":437,"y":3153},{"c":163,"x":465,"y":3153},
{"c":164,"x":315,"y":3332},{"c":164,"x":320,"y":3350},{"c":164,"x":338,"y":3353},{"c":164,"x":376,"y":3353},{"c":164,"x":338,"y":3346},
{"c":165,"x":434,"y":3353},{"c":165,"x":460,"y":3371},{"c":165,"x":486,"y":3350},{"c":165,"x":460,"y":3337},
{"c":166,"x":277,"y":3506},{"c":166,"x":292,"y":3518},{"c":166,"x":304,"y":3498},{"c":166,"x":289,"y":3489},
{"c":167,"x":304,"y":3477},{"c":167,"x":320,"y":3489},{"c":167,"x":330,"y":3477},{"c":167,"x":320,"y":3463},
{"c":168,"x":108,"y":3576},{"c":168,"x":121,"y":3588},{"c":168,"x":134,"y":3576},{"c":168,"x":121,"y":3564},
{"c":169,"x":246,"y":3576},{"c":169,"x":277,"y":3581},
{"c":170,"x":315,"y":3419},{"c":170,"x":353,"y":3437},{"c":170,"x":384,"y":3428},{"c":170,"x":414,"y":3419},{"c":170,"x":437,"y":3437},{"c":170,"x":468,"y":3428},{"c":170,"x":514,"y":3437},{"c":170,"x":514,"y":3384},{"c":170,"x":499,"y":3376},{"c":170,"x":460,"y":3397},{"c":170,"x":422,"y":3411},{"c":170,"x":376,"y":3407},{"c":170,"x":338,"y":3411},{"c":170,"x":315,"y":3397},
{"c":171,"x":404,"y":3506},{"c":171,"x":414,"y":3532},{"c":171,"x":425,"y":3532},{"c":171,"x":425,"y":3506},{"c":171,"x":414,"y":3489},
{"c":172,"x":353,"y":3480},{"c":172,"x":376,"y":3498},{"c":172,"x":399,"y":3480},{"c":172,"x":392,"y":3454},{"c":172,"x":364,"y":3454},
{"c":173,"x":300,"y":3581},{"c":173,"x":338,"y":3588},{"c":173,"x":376,"y":3576},{"c":173,"x":410,"y":3588},{"c":173,"x":430,"y":3578},{"c":173,"x":392,"y":3553},{"c":173,"x":364,"y":3558},{"c":173,"x":353,"y":3532},{"c":173,"x":369,"y":3506},{"c":173,"x":338,"y":3515},{"c":173,"x":323,"y":3550},
{"c":174,"x":437,"y":3602},{"c":174,"x":445,"y":3541},{"c":174,"x":476,"y":3498},{"c":174,"x":514,"y":3466},{"c":174,"x":560,"y":3440},{"c":174,"x":600,"y":3460},{"c":174,"x":640,"y":3480},{"c":174,"x":625,"y":3540},{"c":174,"x":640,"y":3590},{"c":174,"x":600,"y":3640},{"c":174,"x":560,"y":3665},{"c":174,"x":500,"y":3660},{"c":174,"x":450,"y":3640},
{"c":175,"x":455,"y":3540},{"c":175,"x":480,"y":3610},{"c":175,"x":520,"y":3640},{"c":175,"x":560,"y":3600},{"c":175,"x":600,"y":3540},{"c":175,"x":575,"y":3470},{"c":175,"x":530,"y":3450},{"c":175,"x":480,"y":3480},
{"c":176,"x":470,"y":3540},{"c":176,"x":505,"y":3590},{"c":176,"x":540,"y":3590},{"c":176,"x":575,"y":3545},{"c":176,"x":545,"y":3480},{"c":176,"x":510,"y":3480},
{"c":177,"x":495,"y":3545},{"c":177,"x":520,"y":3575},{"c":177,"x":550,"y":3555},{"c":177,"x":545,"y":3510},{"c":177,"x":515,"y":3505},
{"c":178,"x":510,"y":3545},{"c":178,"x":525,"y":3562},{"c":178,"x":540,"y":3545},{"c":178,"x":525,"y":3525},
{"c":179,"x":300,"y":3724},{"c":179,"x":315,"y":3764},{"c":179,"x":338,"y":3741},{"c":179,"x":384,"y":3729},{"c":179,"x":414,"y":3712},{"c":179,"x":430,"y":3759},{"c":179,"x":460,"y":3797},{"c":179,"x":483,"y":3785},{"c":179,"x":468,"y":3755},{"c":179,"x":499,"y":3733},{"c":179,"x":514,"y":3767},{"c":179,"x":514,"y":3715},{"c":179,"x":560,"y":3680},{"c":179,"x":606,"y":3707},{"c":179,"x":629,"y":3680},{"c":179,"x":652,"y":3689},{"c":179,"x":682,"y":3646},{"c":179,"x":644,"y":3646},{"c":179,"x":613,"y":3663},{"c":179,"x":575,"y":3654},{"c":179,"x":537,"y":3637},{"c":179,"x":491,"y":3698},{"c":179,"x":468,"y":3672},{"c":179,"x":422,"y":3689},{"c":179,"x":384,"y":3680},{"c":179,"x":330,"y":3686},
{"c":180,"x":238,"y":3658},{"c":180,"x":269,"y":3672},{"c":180,"x":300,"y":3646},{"c":180,"x":323,"y":3634},{"c":180,"x":353,"y":3637},{"c":180,"x":369,"y":3611},{"c":180,"x":323,"y":3602},{"c":180,"x":292,"y":3602},{"c":180,"x":261,"y":3623},
{"c":181,"x":338,"y":3707},{"c":181,"x":361,"y":3715},{"c":181,"x":384,"y":3703},{"c":181,"x":361,"y":3693},
{"c":182,"x":349,"y":3654},{"c":182,"x":364,"y":3663},{"c":182,"x":381,"y":3651},{"c":182,"x":364,"y":3640},
{"c":183,"x":399,"y":3672},{"c":183,"x":414,"y":3680},{"c":183,"x":430,"y":3672},{"c":183,"x":414,"y":3663},
{"c":184,"x":480,"y":3623},{"c":184,"x":491,"y":3633},{"c":184,"x":502,"y":3623},{"c":184,"x":491,"y":3613},
{"c":185,"x":315,"y":3567},{"c":185,"x":353,"y":3581},{"c":185,"x":392,"y":3588},{"c":185,"x":422,"y":3576},{"c":185,"x":392,"y":3559},{"c":185,"x":353,"y":3562},
{"c":186,"x":430,"y":3564},{"c":186,"x":460,"y":3585},{"c":186,"x":483,"y":3559},
{"c":187,"x":626,"y":3668},{"c":187,"x":639,"y":3686},{"c":187,"x":652,"y":3663},{"c":187,"x":637,"y":3654},
{"c":188,"x":601,"y":3750},{"c":188,"x":621,"y":3762},{"c":188,"x":632,"y":3733},{"c":188,"x":613,"y":3733},
{"c":189,"x":583,"y":3602},{"c":189,"x":644,"y":3616},{"c":189,"x":690,"y":3594},{"c":189,"x":712,"y":3580},{"c":189,"x":682,"y":3541},{"c":189,"x":644,"y":3558},{"c":189,"x":613,"y":3532},{"c":189,"x":590,"y":3550},{"c":189,"x":610,"y":3570},{"c":189,"x":583,"y":3575},
{"c":190,"x":632,"y":3527},{"c":190,"x":641,"y":3538},{"c":190,"x":652,"y":3524},{"c":190,"x":641,"y":3515},
{"c":191,"x":395,"y":3622},{"c":191,"x":430,"y":3630},{"c":191,"x":455,"y":3612},{"c":191,"x":430,"y":3605},
{"c":192,"x":560,"y":3622},{"c":192,"x":590,"y":3640},{"c":192,"x":610,"y":3625},{"c":192,"x":585,"y":3610},
{"c":193,"x":395,"y":3530},{"c":193,"x":430,"y":3520},{"c":193,"x":450,"y":3500},{"c":193,"x":420,"y":3505}
],
"dots":[
{"x":392,"y":1445},{"x":392,"y":1392},{"x":515,"y":1345},{"x":1649,"y":2683},{"x":1401,"y":2409},{"x":1627,"y":2510},{"x":1551,"y":2336},
{"x":511,"y":2756},{"x":392,"y":2807},{"x":196,"y":2732},{"x":269,"y":2732},{"x":121,"y":2558},{"x":392,"y":2610},{"x":716,"y":2706},{"x":889,"y":2653},{"x":292,"y":2485},{"x":170,"y":2434},{"x":343,"y":2408},{"x":514,"y":2432},{"x":366,"y":2335},{"x":243,"y":2257},{"x":514,"y":2137},{"x":789,"y":2509},
{"x":1749,"y":3971},{"x":1772,"y":3898},{"x":1402,"y":3823},{"x":1578,"y":3799},{"x":1282,"y":3750},{"x":1111,"y":3701},{"x":1157,"y":3627},{"x":1134,"y":3576},{"x":1922,"y":3724},{"x":1948,"y":3627},{"x":1871,"y":3505},{"x":1850,"y":3527},{"x":1302,"y":3503},{"x":1328,"y":3477},{"x":1356,"y":3503},{"x":1302,"y":3453},{"x":1180,"y":3453},{"x":1207,"y":3402},{"x":1432,"y":3480},{"x":1428,"y":3576},{"x":1654,"y":3427},{"x":1578,"y":3402},{"x":1700,"y":3402},{"x":1723,"y":3380},{"x":1279,"y":3301},{"x":1405,"y":3279},{"x":1773,"y":3305},{"x":1727,"y":3254},{"x":1749,"y":3232},{"x":1529,"y":3155},{"x":1723,"y":3654},{"x":1799,"y":3677},{"x":1578,"y":3454},{"x":1555,"y":3503},
{"x":369,"y":3976},{"x":418,"y":3997},{"x":392,"y":3776},{"x":886,"y":3799},{"x":907,"y":3727},{"x":664,"y":3799},{"x":935,"y":3623},{"x":639,"y":3428},{"x":713,"y":3452},{"x":540,"y":3350},{"x":590,"y":3353},{"x":514,"y":3379},{"x":96,"y":3433},{"x":266,"y":3228},{"x":292,"y":3451},{"x":193,"y":3527},{"x":223,"y":3550},{"x":167,"y":3550},{"x":460,"y":3654},{"x":483,"y":3654},{"x":499,"y":3654},{"x":606,"y":3452},{"x":522,"y":3454},{"x":364,"y":3729}
]},
"layer":[
{"data":{"name":"contours"},"transform":[{"filter":"!(datum.c<=15||(datum.c>=17&&datum.c<=20)||(datum.c>=24&&datum.c<=27))"}],"mark":{"type":"line","interpolate":"linear-closed","color":"black","strokeWidth":1.4,"order":null,"clip":true},
"encoding":{"detail":{"field":"c","type":"nominal"},
"x":{"field":"x","type":"quantitative","scale":{"domain":[0,2048],"nice":false,"zero":false},"axis":{"orient":"bottom","title":"X (pix)","values":[0,500,1000,1500,2000],"format":"d","grid":false,"domain":false,"tickSize":-6,"tickColor":"black","labelPadding":12,"labelFlush":false,"labelOverlap":false,"labelFont":"DejaVu Sans","labelFontSize":16,"labelColor":"black","titleFont":"DejaVu Sans","titleFontSize":16,"titleFontWeight":"normal","titleColor":"black","titlePadding":8}},
"y":{"field":"y","type":"quantitative","scale":{"domain":[0,4172],"nice":false,"zero":false},"axis":{"orient":"left","title":"Y (pix)","values":[0,500,1000,1500,2000,2500,3000,3500,4000],"format":"d","grid":false,"domain":false,"tickSize":-6,"tickColor":"black","labelPadding":12,"labelFlush":false,"labelOverlap":false,"labelFont":"DejaVu Sans","labelFontSize":16,"labelColor":"black","titleFont":"DejaVu Sans","titleFontSize":16,"titleFontWeight":"normal","titleColor":"black","titlePadding":10}}}},
{"data":{"name":"contours"},"transform":[{"filter":"datum.c<=15||(datum.c>=17&&datum.c<=20)||(datum.c>=24&&datum.c<=27)"}],"mark":{"type":"line","interpolate":"cardinal-closed","color":"black","strokeWidth":1.4,"order":null,"clip":true},
"encoding":{"detail":{"field":"c","type":"nominal"},
"x":{"field":"x","type":"quantitative","axis":null},
"y":{"field":"y","type":"quantitative","axis":null}}},
{"data":{"name":"dots"},"mark":{"type":"point","filled":true,"color":"black","opacity":1,"size":5,"shape":"circle"},
"encoding":{
"x":{"field":"x","type":"quantitative","axis":{"orient":"top","title":null,"values":[0,500,1000,1500,2000],"grid":false,"domain":false,"labels":false,"tickSize":-6,"tickColor":"black"}},
"y":{"field":"y","type":"quantitative","axis":{"orient":"right","title":null,"values":[0,500,1000,1500,2000,2500,3000,3500,4000],"grid":false,"domain":false,"labels":false,"tickSize":-6,"tickColor":"black"}}}}
],
"resolve":{"axis":{"x":"independent","y":"independent"}}}
